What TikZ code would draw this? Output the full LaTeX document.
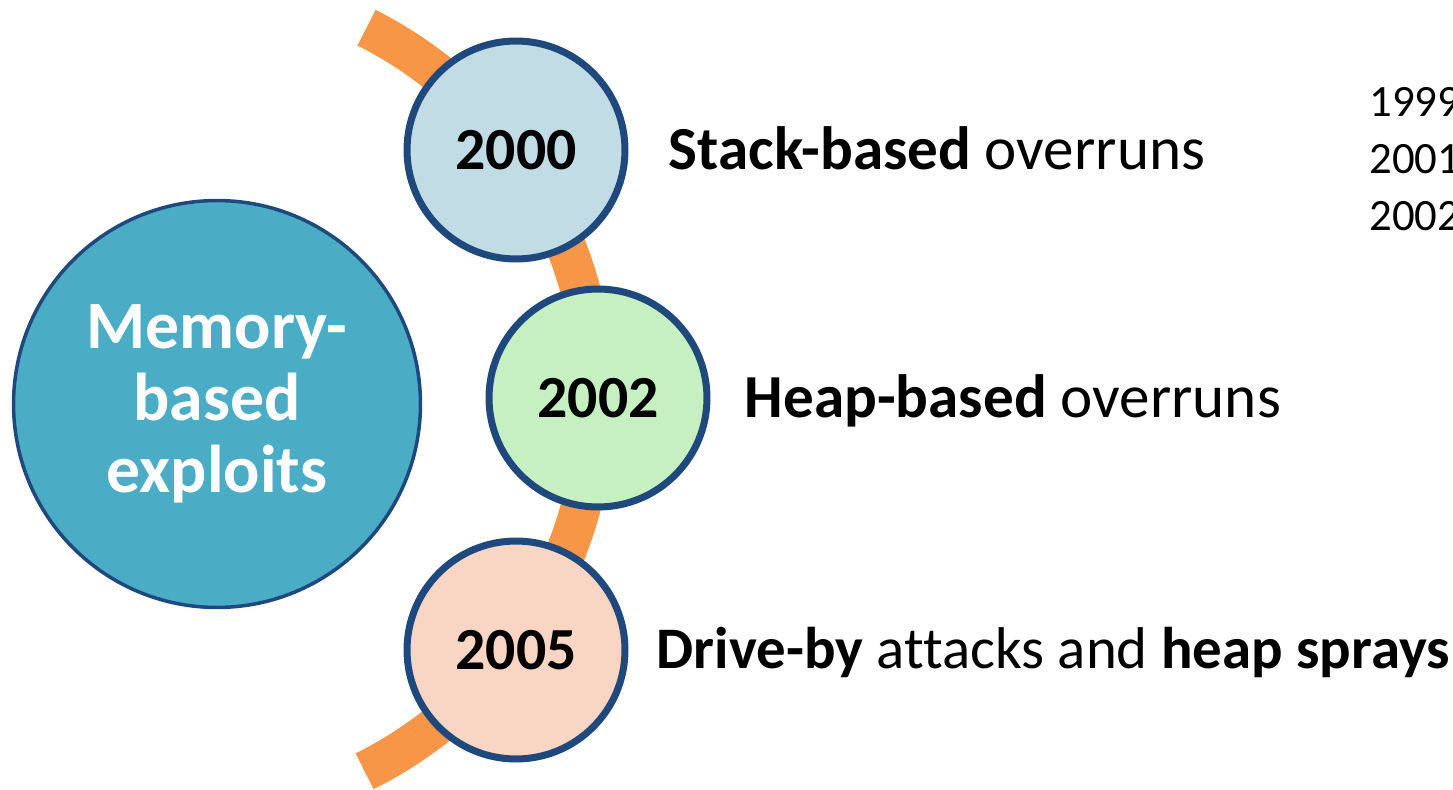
\documentclass[tikz,border=0pt]{standalone}
\usepackage{fontspec}
\setmainfont{Carlito}[Ligatures=CommonOff]
\usetikzlibrary{positioning}

\definecolor{ringblue}{RGB}{31,73,125}
\definecolor{bandorange}{RGB}{247,150,70}
\definecolor{hubteal}{RGB}{75,172,198}
\definecolor{paleblue}{RGB}{193,220,228}
\definecolor{palegreen}{RGB}{198,240,193}
\definecolor{palepeach}{RGB}{249,213,195}

\tikzset{
    hub/.style={circle, draw=ringblue, line width=2pt, fill=hubteal, minimum size=8.14cm, inner sep=0pt,
        align=center, text=white, font=\fontsize{38.5}{41}\selectfont\bfseries},
    year/.style={circle, draw=ringblue, line width=4pt, minimum size=4.36cm, inner sep=0pt,
        font=\fontsize{34}{40}\selectfont\bfseries},
    topic/.style={inner sep=0pt, text height=22.1pt, text depth=0pt, font=\fontsize{34.8}{42}\selectfont},
    note/.style={anchor=base west, inner sep=0pt, font=\fontsize{25.5}{30}\selectfont},
    band/.style={draw=bandorange, line width=0.8cm},
}

\begin{document}
\begin{tikzpicture}[x=0.02cm, y=0.02cm]
    \useasboundingbox (0,0) rectangle (1453,789);
    \clip (0,0) rectangle (1453,789);
    \coordinate (arccentre) at (179,390);
    \draw[band] (arccentre) ++(63.2:416) arc[start angle=63.2, end angle=-63.5, radius=416];

    \node[hub] (memory) at (217,385) {Memory-\\based\\exploits};
    \node[year, fill=paleblue] (y2000) at (516,639) {2000};
    \node[year, fill=palegreen] (y2002) at (598,391) {2002};
    \node[year, fill=palepeach] (y2005) at (516,139) {2005};

    \node[topic, right=0.8cm of y2000] (stack) {\textbf{Stack-based} overruns};
    \node[topic, right=0.68cm of y2002] (heap) {\textbf{Heap-based} overruns};
    \node[topic, right=0.56cm of y2005, text height=21.3pt, font=\fontsize{33.5}{40}\selectfont] (driveby)
        {\textbf{Drive-by} attacks and \textbf{heap sprays}};

    \foreach \yr [count=\i] in {1999,2001,2002}
        \node[note] (note\i) at (1369,{672-56.5*(\i-1)}) {\yr};
\end{tikzpicture}
\end{document}
